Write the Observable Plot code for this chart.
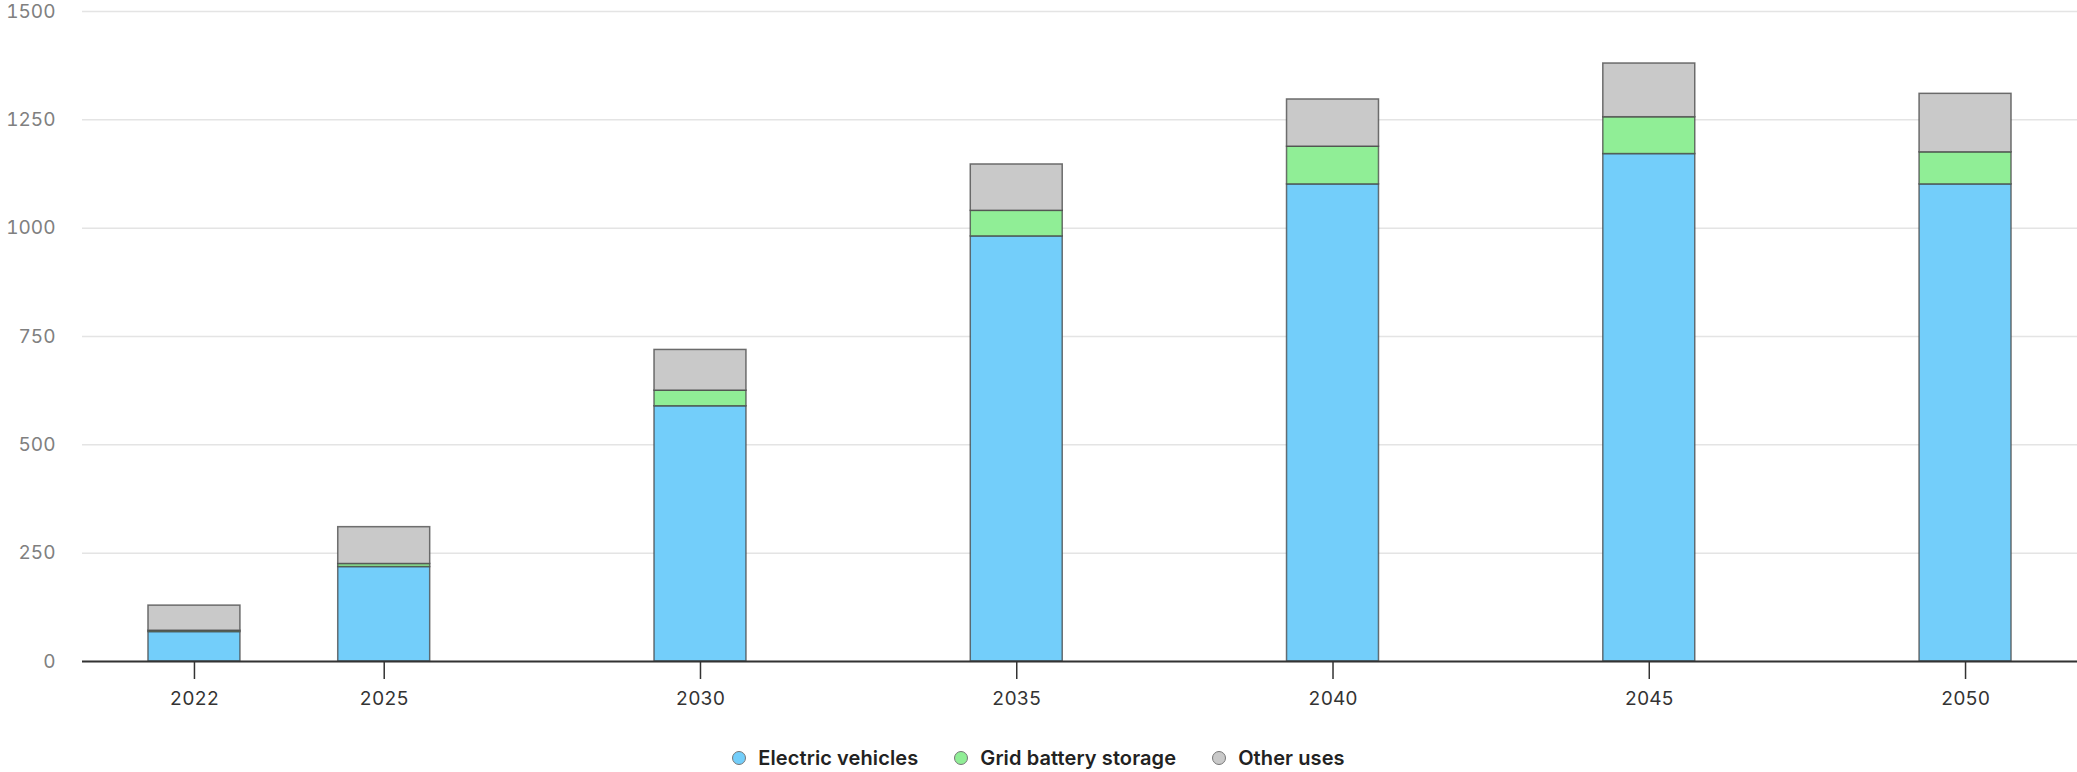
<!DOCTYPE html>
<html>
<head>
<meta charset="utf-8">
<script src="https://cdn.jsdelivr.net/npm/d3@7"></script>
<script src="https://cdn.jsdelivr.net/npm/@observablehq/plot@0.6"></script>
<style>
  html, body { margin: 0; padding: 0; background: #fff; overflow: hidden; }
  #chart svg { display: block; }
  .legend { display: flex; justify-content: center; align-items: center; height: 28px; margin-top: 22px;
    font-family: Inter, "Liberation Sans", sans-serif; font-size: 20px; font-weight: 600; color: #222; letter-spacing: 0.1px; }
  .legend .item { display: flex; align-items: center; margin: 0 18px; }
  .legend .sw { width: 14px; height: 14px; border-radius: 50%; border: 1px solid #777; margin-right: 12px; box-sizing: border-box; }
</style>
</head>
<body>
<div id="chart"></div>
<div class="legend" id="legend"></div>
<script>
const years = [2022, 2025, 2030, 2035, 2040, 2045, 2050];
const series = ["Electric vehicles", "Grid battery storage", "Other uses"];
const electricVehicles = [68, 218, 589, 981, 1101, 1171, 1101];
const gridBatteryStorage = [3, 7, 36, 59, 87, 85, 74];
const otherUses = [58, 85, 94, 107, 109, 124, 135];
const colors = ["#73cefa", "#90ee96", "#c9c9c9"];
const yTicks = [0, 250, 500, 750, 1000, 1250, 1500];

const values = [electricVehicles, gridBatteryStorage, otherUses];
const halfWidth = 0.727; // half bar width in years
const rows = [];
years.forEach((yr, i) => {
  let base = 0;
  series.forEach((s, j) => {
    const v = values[j][i];
    rows.push({year: yr, series: s, value: v, y1: base, y2: base + v});
    base += v;
  });
});

const chart = Plot.plot({
  width: 2077,
  height: 722,
  marginLeft: 82,
  marginRight: 0,
  marginTop: 11,
  marginBottom: 61,
  style: {fontFamily: "Inter, 'Liberation Sans', sans-serif", fontSize: "19px", background: "#fff"},
  x: {domain: [2020.23, 2051.77], label: null},
  y: {domain: [0, 1500], label: null},
  color: {domain: series, range: colors},
  marks: [
    Plot.gridY(yTicks, {stroke: "#e4e4e4", strokeOpacity: 1, strokeWidth: 1.5}),
    Plot.axisY(yTicks, {tickSize: 0, tickPadding: 27, fill: "#808080", label: null, fontSize: 19, tickFormat: d => String(d)}),
    Plot.axisX(years, {tickSize: 18, tickPadding: 12, tickFormat: d => String(d), fill: "#333", stroke: "#333", strokeWidth: 1.5, label: null, fontSize: 19}),
    Plot.rect(rows, {
      x1: d => d.year - halfWidth,
      x2: d => d.year + halfWidth,
      y1: "y1",
      y2: "y2",
      fill: "series",
      stroke: "#444",
      strokeOpacity: 0.75,
      strokeWidth: 1.5
    }),
    Plot.ruleY([0], {stroke: "#333", strokeWidth: 2})
  ]
});
document.getElementById("chart").appendChild(chart);

const legend = document.getElementById("legend");
series.forEach((s, j) => {
  const item = document.createElement("div");
  item.className = "item";
  const sw = document.createElement("span");
  sw.className = "sw";
  sw.style.background = colors[j];
  const t = document.createElement("span");
  t.textContent = s;
  item.appendChild(sw);
  item.appendChild(t);
  legend.appendChild(item);
});
</script>
</body>
</html>
